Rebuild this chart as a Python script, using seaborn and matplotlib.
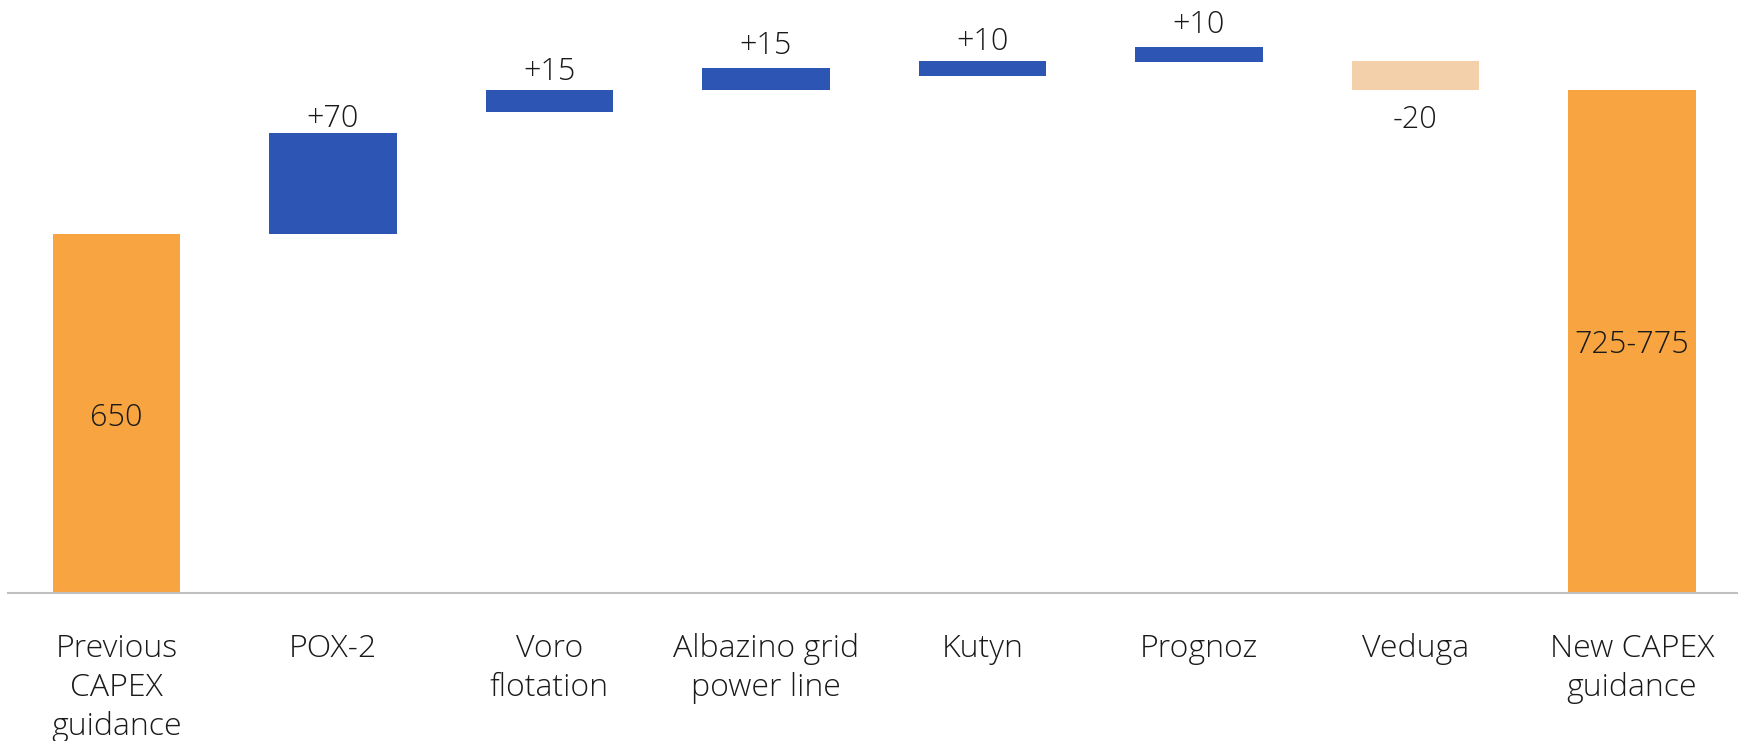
import matplotlib
matplotlib.use("Agg")
import matplotlib.pyplot as plt
import seaborn as sns
import pandas as pd
import numpy as np

# ---- data (chart units, first bar = 650) ----
categories = ["Previous\nCAPEX\nguidance", "POX-2", "Voro\nflotation",
              "Albazino grid\npower line", "Kutyn", "Prognoz", "Veduga",
              "New CAPEX\nguidance"]
bar_bottom = [0, 650, 871, 911, 936, 961, 911, 0]
bar_top = [650, 833, 911, 951, 963, 989, 963, 911]
value_labels = ["650", "+70", "+15", "+15", "+10", "+10", "-20", "725-775"]
bar_kind = ["total", "up", "up", "up", "up", "up", "down", "total"]

# ---- style ----
colors = {"total": "#F8A440", "up": "#2D56B4", "down": "#F3D0AA"}
text_color = "#1A1A1A"
label_offset_pt = [0, 4.3, 7.2, 10.1, 7.9, 10.1, -27.4, 0]

sns.set_theme(style="white")
plt.rcParams["font.family"] = ["Open Sans", "DejaVu Sans"]
plt.rcParams["font.weight"] = 300

fig = plt.figure(figsize=(17.38, 7.41), dpi=100)
ax = fig.add_axes([8.25 / 1738, 148 / 741, 1732 / 1738, 593 / 741])

df = pd.DataFrame({"cat": categories,
                   "height": np.array(bar_top) - np.array(bar_bottom),
                   "bottom": bar_bottom})
sns.barplot(data=df, x="cat", y="height", order=categories, ax=ax,
            bottom=df["bottom"].to_numpy(), width=0.59, errorbar=None,
            color=colors["up"], linewidth=0, edgecolor="none")

for patch, kind in zip(ax.patches, bar_kind):
    patch.set_facecolor(colors[kind])

ax.set_xlim(-0.5, 7.5)
ax.set_ylim(0, 1074)

for i, (lab, kind) in enumerate(zip(value_labels, bar_kind)):
    b, t = bar_bottom[i], bar_top[i]
    if kind == "total":
        ax.text(i, (b + t) / 2, lab, ha="center", va="center_baseline",
                fontsize=22, color=text_color)
    elif kind == "up":
        ax.annotate(lab, (i, t), xytext=(0, label_offset_pt[i]),
                    textcoords="offset points",
                    ha="center", va="baseline", fontsize=22, color=text_color)
    else:
        ax.annotate(lab, (i, b), xytext=(0, label_offset_pt[i]),
                    textcoords="offset points",
                    ha="center", va="baseline", fontsize=22, color=text_color)

ax.set_xlabel("")
ax.set_ylabel("")
ax.set_yticks([])
ax.tick_params(axis="x", length=0, pad=29, labelsize=23, labelcolor=text_color)
for lbl in ax.get_xticklabels():
    lbl.set_linespacing(1.28)
for side in ["top", "right", "left"]:
    ax.spines[side].set_visible(False)
ax.spines["bottom"].set_color("#BFBFBF")
ax.spines["bottom"].set_linewidth(1.5)

fig.savefig("out.png", dpi=100, facecolor="white")
